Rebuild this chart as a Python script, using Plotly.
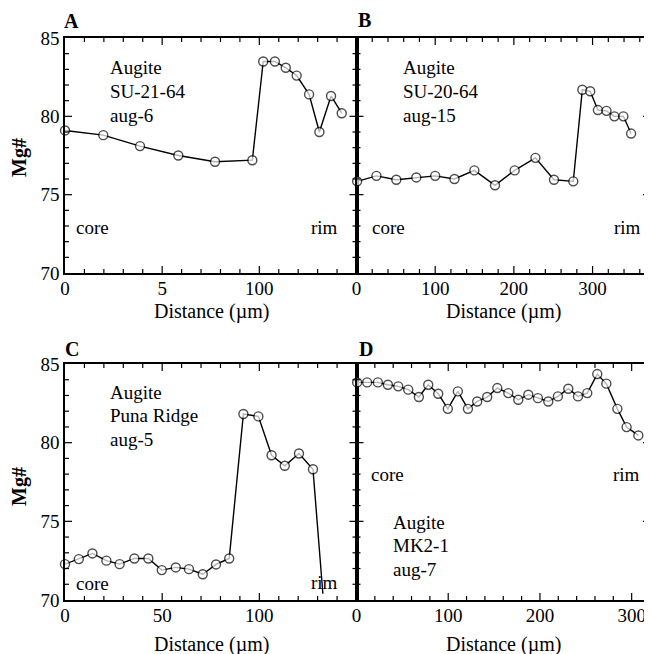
import plotly.graph_objects as go
from plotly.subplots import make_subplots

# ---------------------------------------------------------------------------
# Data: distance in um, Mg#
# ---------------------------------------------------------------------------
a_x = [0, 19.7, 38.6, 58.3, 77.2, 96.4, 102, 108, 113.6, 119.2, 125.6, 130.9, 136.9, 142.4]
a_y = [79.1, 78.8, 78.1, 77.5, 77.1, 77.2, 83.5, 83.5, 83.1, 82.6, 81.4, 79.0, 81.3, 80.2]

b_x = [0.8, 25.3, 50.6, 76, 100, 124.5, 149.8, 176, 201, 227.4, 251, 275.5,
       287, 297, 306.8, 317.7, 327.8, 339.2, 349]
b_y = [75.85, 76.2, 75.95, 76.1, 76.2, 76.0, 76.55, 75.6, 76.55, 77.35, 75.95, 75.85,
       81.7, 81.6, 80.4, 80.35, 80.0, 80.0, 78.9]

c_x = [0, 7.1, 14.1, 21.3, 28.1, 35.7, 42.9, 49.8, 57, 63.8, 70.9, 77.7, 84.5,
       91.8, 99.5, 106.3, 113.1, 120.4, 127.6, 132.7]
c_y = [72.28, 72.6, 72.96, 72.5, 72.28, 72.64, 72.64, 71.9, 72.07, 71.96, 71.64, 72.26, 72.64,
       81.82, 81.67, 79.2, 78.53, 79.31, 78.31, 70.4]

d_x = [0.7, 11.6, 23.3, 34.2, 45.5, 56.4, 68, 78.2, 89.1, 99.6, 110.5, 121.5, 131.6, 142.5,
       153.5, 165.5, 176.4, 187.3, 197.8, 209.1, 219.6, 230.9, 241.5, 251.6, 262.5, 272.4,
       284.4, 294.5, 307.3]
d_y = [83.83, 83.83, 83.83, 83.68, 83.58, 83.37, 82.9, 83.68, 83.11, 82.15, 83.26, 82.15, 82.62,
       82.9, 83.47, 83.15, 82.73, 83.05, 82.83, 82.62, 82.94, 83.43, 82.94, 83.15, 84.36, 83.75,
       82.15, 80.99, 80.46]

a_ticks, a_ticktext = [0, 50, 100], ["0", "5", "100"]
c_ticks, c_ticktext = [0, 50, 100], ["0", "50", "100"]
bd_ticks, bd_ticktext = [0, 100, 200, 300], ["0", "100", "200", "300"]

# page body has an 8px margin, so the figure is 8px smaller and shifted
OFF = 8
W, H = 652 - OFF, 654 - OFF
FONT = "Liberation Serif, Times New Roman, serif"


def px(x):
    return (x - OFF) / W


def py(y):
    return 1 - (y - OFF) / H


fig = make_subplots(rows=2, cols=2, horizontal_spacing=0, vertical_spacing=0)

panels = [
    (1, 1, a_x, a_y, [9] * len(a_x)),
    (1, 2, b_x, b_y, [9] * len(b_x)),
    (2, 1, c_x, c_y, [9] * (len(c_x) - 1) + [0]),   # last C point is the line end only
    (2, 2, d_x, d_y, [9] * len(d_x)),
]
for row, col, xs, ys, sizes in panels:
    fig.add_trace(go.Scatter(
        x=xs, y=ys, mode="lines+markers",
        line=dict(color="black", width=1.4),
        marker=dict(size=sizes, color="white", line=dict(color="black", width=1.4)),
        cliponaxis=False, showlegend=False,
    ), row=row, col=col)

tickfont = dict(family=FONT, size=19, color="black")
x_px = {1: (65, 356.5), 2: (356.5, 650)}
y_px = {1: (273, 38), 2: (600, 364)}
x_dom = {c: [px(a), px(b)] for c, (a, b) in x_px.items()}
y_dom = {r: [py(a), py(b)] for r, (a, b) in y_px.items()}

# (row, col): x range, label ticks, label text, major step, minor step
x_cfg = {
    (1, 1): ([0, 150], a_ticks, a_ticktext, 50, 10),
    (1, 2): ([0, 373], bd_ticks, bd_ticktext, 100, 20),
    (2, 1): ([0, 150], c_ticks, c_ticktext, 50, 10),
    (2, 2): ([0, 320], bd_ticks, bd_ticktext, 100, 20),
}
Y_RANGE, Y_MAJOR, Y_MINOR = [70, 85], 5, 1
MAJOR_LEN, MINOR_LEN = 7, 4
tick_line = dict(color="black", width=1.2)

for i, ((row, col), (rng, tv, tt, major, mnr)) in enumerate(x_cfg.items(), start=1):
    sx = "" if i == 1 else str(i)
    fig.update_xaxes(
        range=rng, tickmode="array", tickvals=tv, ticktext=tt, domain=x_dom[col],
        ticks="", showline=True, linecolor="black", linewidth=1.5, mirror=True,
        showgrid=False, zeroline=False, tickfont=tickfont, automargin=False,
        ticklabelstandoff=-3, row=row, col=col,
    )
    fig.update_yaxes(
        range=Y_RANGE, tickmode="linear", tick0=Y_RANGE[0], dtick=Y_MAJOR, domain=y_dom[row],
        showticklabels=(col == 1),
        ticks="", showline=True, linecolor="black", linewidth=1.5, mirror=True,
        showgrid=False, zeroline=False, tickfont=tickfont, automargin=False,
        row=row, col=col,
    )

    # inward tick marks on all four sides, placed in data units on each axis
    h_px = y_px[row][0] - y_px[row][1]
    w_px = x_px[col][1] - x_px[col][0]
    v = rng[0] + mnr
    while v < rng[1]:
        frac = (MAJOR_LEN if v % major == 0 else MINOR_LEN) / h_px
        for y0, y1 in ((0, frac), (1, 1 - frac)):
            fig.add_shape(type="line", xref=f"x{sx}", yref=f"y{sx} domain",
                          x0=v, x1=v, y0=y0, y1=y1, line=tick_line, layer="above")
        v += mnr
    v = Y_RANGE[0] + Y_MINOR
    while v < Y_RANGE[1]:
        frac = (MAJOR_LEN if v % Y_MAJOR == 0 else MINOR_LEN) / w_px
        for x0, x1 in ((0, frac), (1, 1 - frac)):
            fig.add_shape(type="line", xref=f"x{sx} domain", yref=f"y{sx}",
                          x0=x0, x1=x1, y0=v, y1=v, line=tick_line, layer="above")
        v += Y_MINOR


def note(x, y, text, size=19, bold=False, angle=0, xanchor="left"):
    fig.add_annotation(
        x=px(x), y=py(y), xref="paper", yref="paper", text=f"<b>{text}</b>" if bold else text,
        showarrow=False, xanchor=xanchor, yanchor="middle", textangle=angle,
        font=dict(family=FONT, size=size, color="black"),
    )


# panel letters
note(62, 21, "A", size=20, bold=True)
note(356, 20, "B", size=20, bold=True)
note(63, 349, "C", size=20, bold=True)
note(357, 349, "D", size=20, bold=True)

# sample labels
for x0, y0, lines in [
    (108, 68, ["Augite", "SU-21-64", "aug-6"]),
    (401, 68, ["Augite", "SU-20-64", "aug-15"]),
    (108, 392, ["Augite", "Puna Ridge", "aug-5"]),
    (391, 522, ["Augite", "MK2-1", "aug-7"]),
]:
    for i, t in enumerate(lines):
        note(x0, y0 + i * 23.5, t)

# core / rim
note(74, 228, "core")
note(309, 228, "rim")
note(370, 228, "core")
note(612, 228, "rim")
note(74, 583, "core")
note(309, 582, "rim")
note(369, 474, "core")
note(611, 474, "rim")

# axis titles
for cx in (211, 503):
    note(cx, 311, "Distance (µm)", size=20, xanchor="center")
    note(cx, 644, "Distance (µm)", size=20, xanchor="center")
note(19, 158, "Mg#", size=20, bold=True, angle=-90, xanchor="center")
note(19, 487, "Mg#", size=20, bold=True, angle=-90, xanchor="center")

fig.update_layout(
    width=W, height=H, margin=dict(l=0, r=0, t=0, b=0),
    paper_bgcolor="white", plot_bgcolor="rgba(0,0,0,0)",
    font=dict(family=FONT, color="black"),
)

fig.write_html("out.html")
